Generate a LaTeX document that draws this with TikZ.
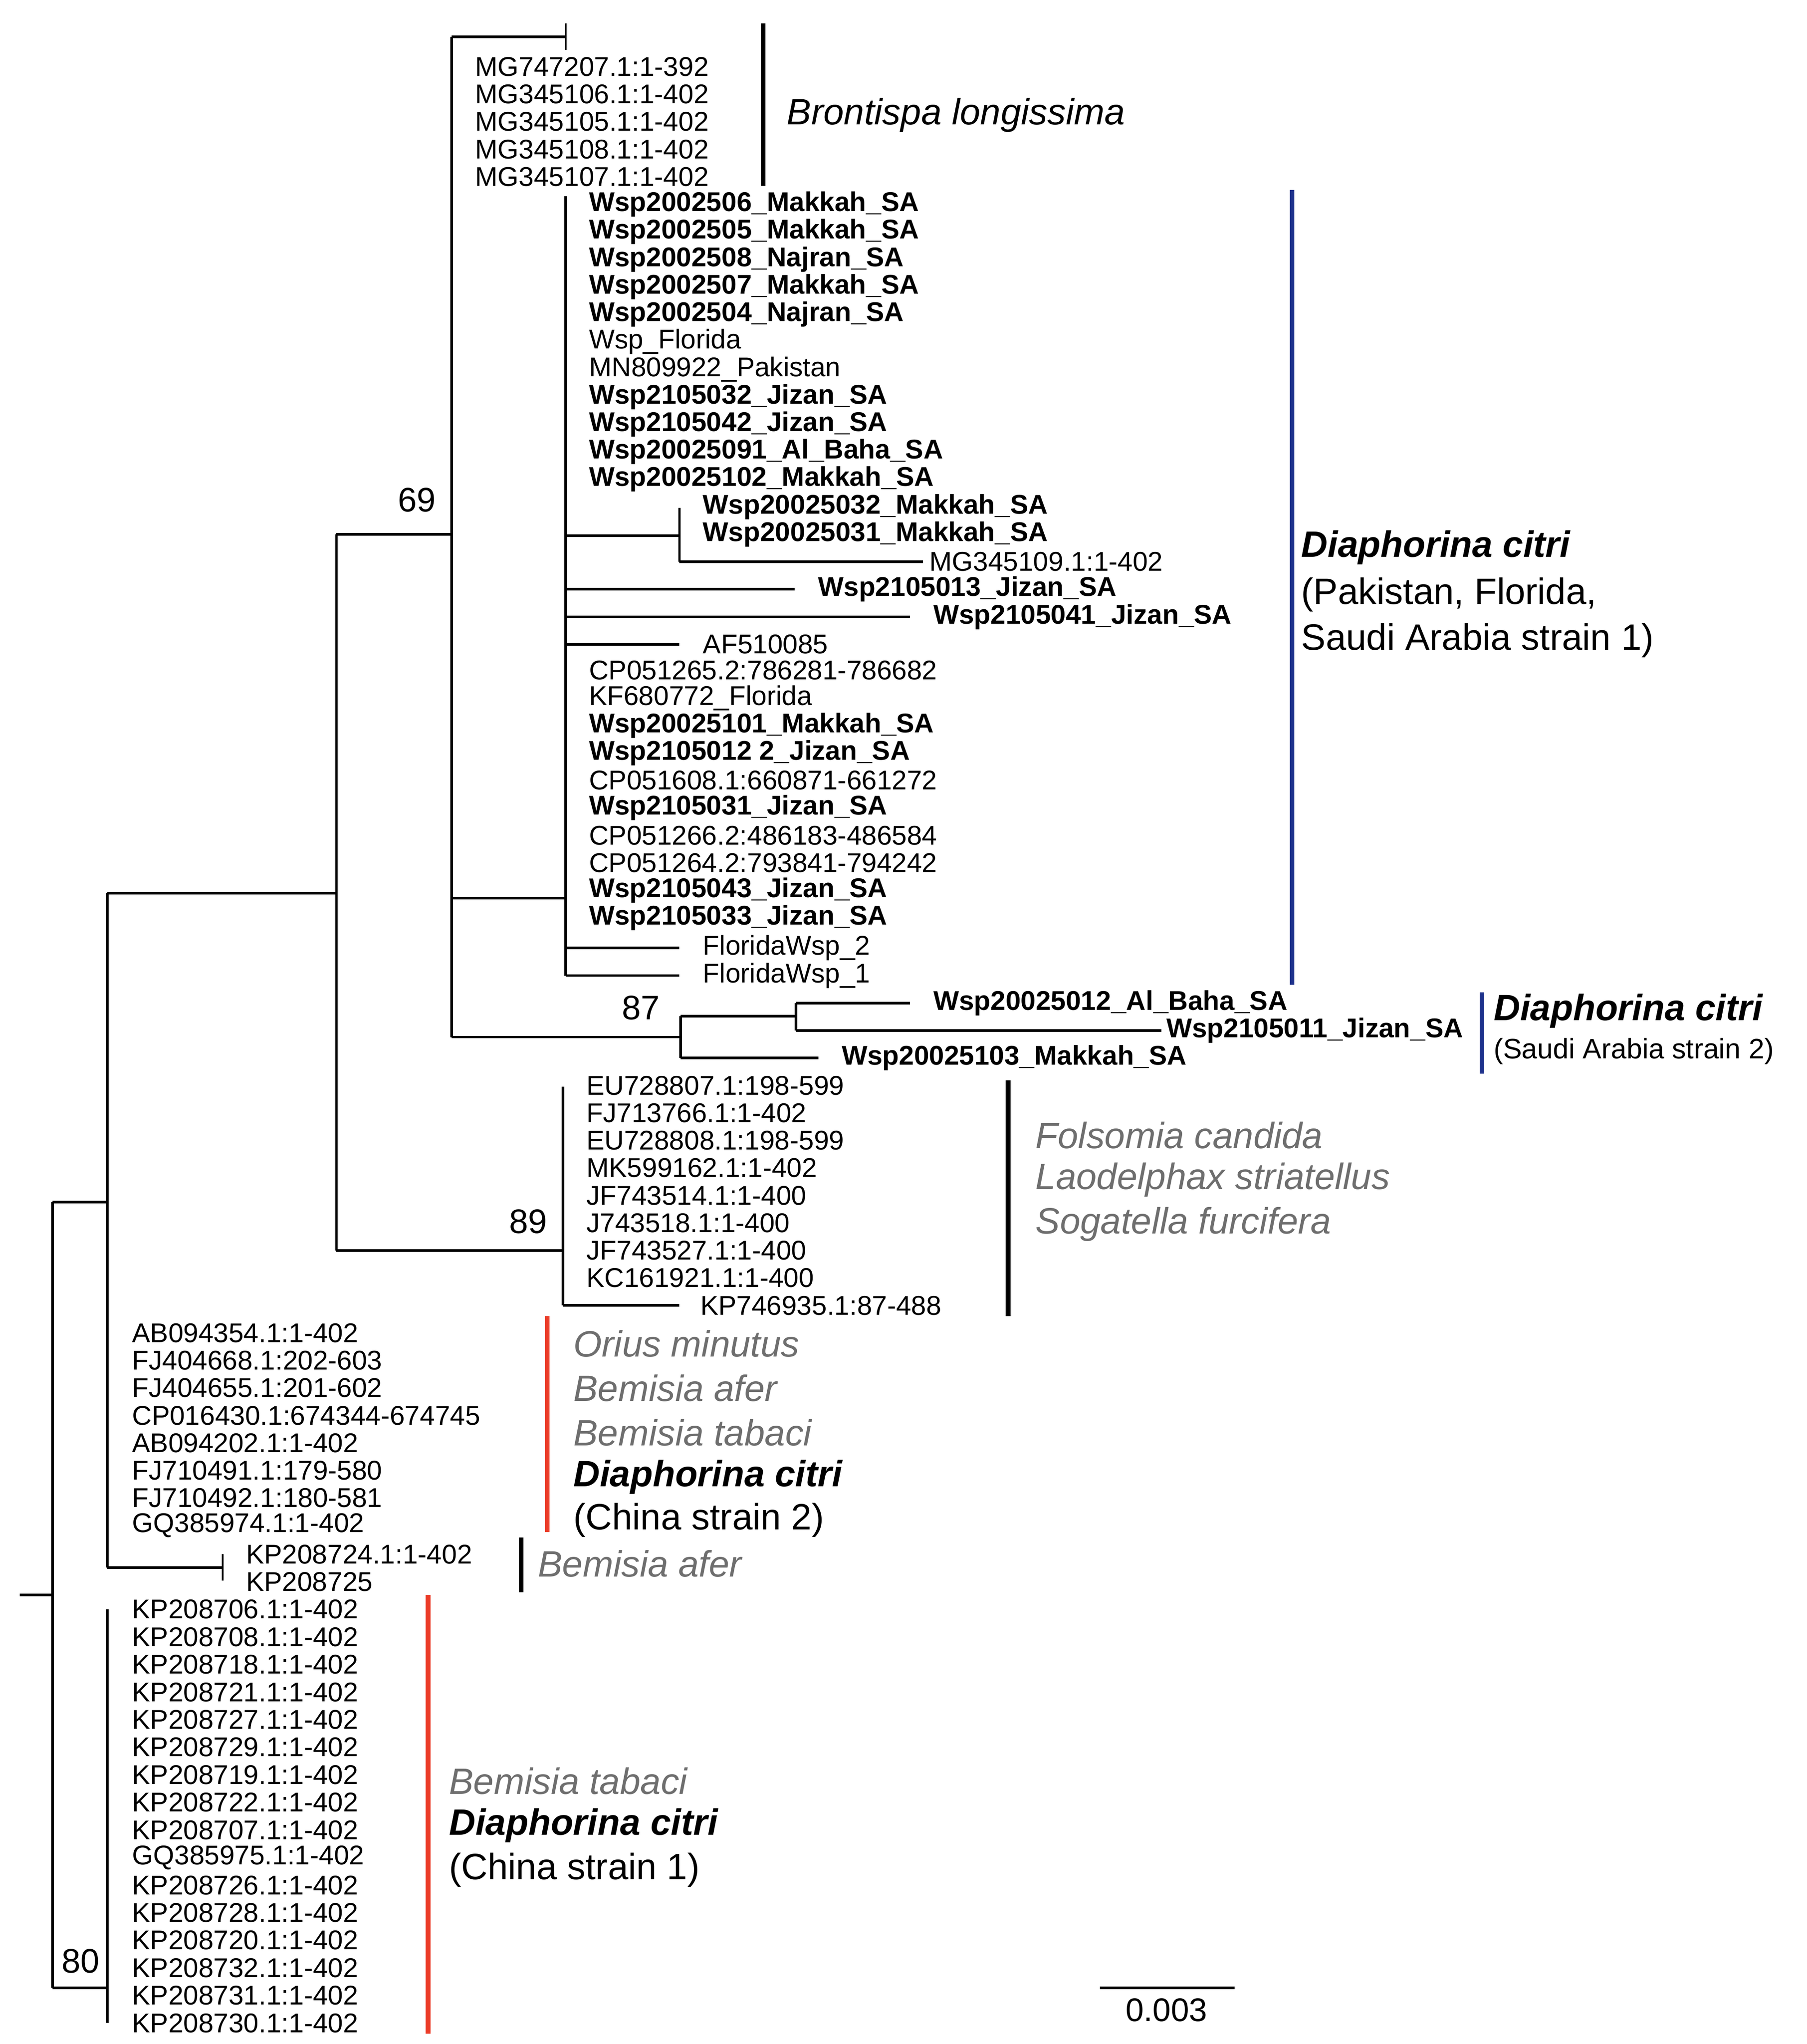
\documentclass[tikz,border=0pt]{standalone}
\usepackage{fontspec}
\setmainfont{Liberation Sans}
\begin{document}
\begin{tikzpicture}[x=1pt,y=-1pt,line width=2pt,
  leaf/.style={anchor=west,inner sep=0pt,font=\fontsize{20.7}{21}\selectfont},
  boot/.style={anchor=south,inner sep=1pt,font=\fontsize{26}{28}\selectfont},
  big/.style={anchor=west,inner sep=0pt,font=\fontsize{28}{30}\selectfont},
  gr/.style={big,text=grayt,font=\fontsize{28}{30}\selectfont\itshape},
  br/.style={line width=3.5pt}]
\definecolor{bluet}{RGB}{30,50,140}
\definecolor{redt}{RGB}{235,60,40}
\definecolor{grayt}{RGB}{110,110,110}
\useasboundingbox (0,0) rectangle (1380,1561);
% root
\coordinate (R) at (15,1218); \coordinate (R1) at (40,1218);
\coordinate (A) at (40,918); \coordinate (B) at (40,1518);
\draw (R) -- (R1); \draw (A) -- (B);
\coordinate (A1) at (82,918); \draw (A) -- (A1);
\coordinate (C1) at (82,682); \coordinate (C2) at (82,1197); \draw (C1) -- (C2);
\coordinate (D) at (257,682); \draw (C1) -- (D);
\coordinate (D1) at (257,408); \coordinate (D2) at (257,955); \draw (D1) -- (D2);
\coordinate (E) at (345,408); \draw (D1) -- (E);
\node[boot,anchor=south east] (b69) at (335,393) {69};
\coordinate (E1) at (345,28); \coordinate (E2) at (345,792); \draw (E1) -- (E2);
\coordinate (F) at (432,28); \draw (E1) -- (F);
\coordinate (Ft) at (432,18); \coordinate (Fb) at (432,38); \draw[line width=1.5pt] (Ft) -- (Fb);
\foreach \t [count=\i] in {MG747207.1:1-392,MG345106.1:1-402,MG345105.1:1-402,MG345108.1:1-402,MG345107.1:1-402}
  \node[leaf] (m\i) at (362,{51+21*(\i-1)}) {\t};
% main Dc cluster
\coordinate (G) at (345,686); \coordinate (G1) at (432,686); \draw (G) -- (G1);
\coordinate (H1) at (432,150); \coordinate (H2) at (432,745); \draw (H1) -- (H2);
\foreach \t [count=\i] in {\textbf{Wsp2002506\_Makkah\_SA},\textbf{Wsp2002505\_Makkah\_SA},\textbf{Wsp2002508\_Najran\_SA},\textbf{Wsp2002507\_Makkah\_SA},\textbf{Wsp2002504\_Najran\_SA},Wsp\_Florida,MN809922\_Pakistan,\textbf{Wsp2105032\_Jizan\_SA},\textbf{Wsp2105042\_Jizan\_SA},\textbf{Wsp20025091\_Al\_Baha\_SA},\textbf{Wsp20025102\_Makkah\_SA}}
  \node[leaf] (p\i) at (449,{156+21*(\i-1)}) {\t};
\foreach \t [count=\i] in {CP051265.2:786281-786682,KF680772\_Florida,\textbf{Wsp20025101\_Makkah\_SA},\textbf{Wsp2105012 2\_Jizan\_SA},CP051608.1:660871-661272,\textbf{Wsp2105031\_Jizan\_SA},CP051266.2:486183-486584,CP051264.2:793841-794242,\textbf{Wsp2105043\_Jizan\_SA},\textbf{Wsp2105033\_Jizan\_SA}}
  \node[leaf] (q\i) at (449,{512+21*(\i-1)}) {\t};
\coordinate (I) at (432,409); \coordinate (I1) at (519,409); \draw (I) -- (I1);
\coordinate (J1) at (519,388); \coordinate (J2) at (519,429); \draw (J1) -- (J2);
\node[leaf] (s1) at (536,387) {\textbf{Wsp20025032\_Makkah\_SA}};
\node[leaf] (s2) at (536,408) {\textbf{Wsp20025031\_Makkah\_SA}};
\coordinate (J3) at (705,429); \draw (J2) -- (J3);
\node[leaf] (s3) at (709,429) {MG345109.1:1-402};
\coordinate (K1) at (432,450); \coordinate (K2) at (607,450); \draw (K1) -- (K2);
\node[leaf] (s4) at (624,450) {\textbf{Wsp2105013\_Jizan\_SA}};
\coordinate (L1) at (432,471); \coordinate (L2) at (695,471); \draw (L1) -- (L2);
\node[leaf] (s5) at (712,471) {\textbf{Wsp2105041\_Jizan\_SA}};
\coordinate (M1) at (432,492); \coordinate (M2) at (519,492); \draw (M1) -- (M2);
\node[leaf] (s6) at (536,492) {AF510085};
\coordinate (N1) at (432,724); \coordinate (N2) at (519,724); \draw (N1) -- (N2);
\node[leaf] (s7) at (536,724) {FloridaWsp\_2};
\coordinate (O2) at (519,745); \draw (H2) -- (O2);
\node[leaf] (s8) at (536,745) {FloridaWsp\_1};
% SA strain 2
\coordinate (P1) at (520,792); \draw (E2) -- (P1);
\node[boot,anchor=south east] (b87) at (506,781) {87};
\coordinate (P2) at (520,776); \coordinate (P3) at (520,808); \draw (P2) -- (P3);
\coordinate (Q1) at (608,776); \draw (P2) -- (Q1);
\coordinate (Q2) at (608,766); \coordinate (Q3) at (608,787); \draw (Q2) -- (Q3);
\coordinate (Q4) at (695,766); \draw (Q2) -- (Q4);
\coordinate (Q5) at (887,787); \draw (Q3) -- (Q5);
\coordinate (Q6) at (625,808); \draw (P3) -- (Q6);
\node[leaf] (t1) at (712,766) {\textbf{Wsp20025012\_Al\_Baha\_SA}};
\node[leaf] (t2) at (890,787) {\textbf{Wsp2105011\_Jizan\_SA}};
\node[leaf] (t3) at (642,808) {\textbf{Wsp20025103\_Makkah\_SA}};
% 89 clade
\coordinate (S1) at (430,955); \draw (D2) -- (S1);
\node[boot,anchor=south east] (b89) at (420,944) {89};
\coordinate (S2) at (430,830); \coordinate (S3) at (430,997); \draw (S2) -- (S3);
\foreach \t [count=\i] in {EU728807.1:198-599,FJ713766.1:1-402,EU728808.1:198-599,MK599162.1:1-402,JF743514.1:1-400,J743518.1:1-400,JF743527.1:1-400,KC161921.1:1-400}
  \node[leaf] (u\i) at (447,{829+21*(\i-1)}) {\t};
\coordinate (S4) at (519,997); \draw (S3) -- (S4);
\node[leaf] (u9) at (534,997) {KP746935.1:87-488};
% China 2 group
\foreach \t [count=\i] in {AB094354.1:1-402,FJ404668.1:202-603,FJ404655.1:201-602,CP016430.1:674344-674745,AB094202.1:1-402,FJ710491.1:179-580,FJ710492.1:180-581,GQ385974.1:1-402}
  \node[leaf] (v\i) at (100,{1018+21*(\i-1)}) {\t};
\coordinate (T1) at (170,1197); \draw (C2) -- (T1);
\coordinate (T2) at (170,1187); \coordinate (T3) at (170,1207); \draw[line width=1.5pt] (T2) -- (T3);
\node[leaf] (w1) at (187,1187) {KP208724.1:1-402};
\node[leaf] (w2) at (187,1208) {KP208725};
% China 1 group
\coordinate (U1) at (82,1518); \draw (B) -- (U1);
\node[boot,anchor=south east] (b80) at (78,1509) {80};
\coordinate (U2) at (82,1229); \coordinate (U3) at (82,1545); \draw (U2) -- (U3);
\foreach \t [count=\i] in {KP208706.1:1-402,KP208708.1:1-402,KP208718.1:1-402,KP208721.1:1-402,KP208727.1:1-402,KP208729.1:1-402,KP208719.1:1-402,KP208722.1:1-402,KP208707.1:1-402,GQ385975.1:1-402,KP208726.1:1-402,KP208728.1:1-402,KP208720.1:1-402,KP208732.1:1-402,KP208731.1:1-402,KP208730.1:1-402}
  \node[leaf] (k\i) at (100,{1229+21.07*(\i-1)}) {\t};
% bars and group labels
\coordinate (X1) at (583,18); \coordinate (X2) at (583,142); \draw[br] (X1) -- (X2);
\node[big,font=\fontsize{28}{30}\selectfont\itshape] (g1) at (600,88) {Brontispa longissima};
\coordinate (X3) at (987,145); \coordinate (X4) at (987,752); \draw[br,bluet] (X3) -- (X4);
\node[big,font=\fontsize{28}{30}\selectfont\bfseries\itshape] (g2) at (993,418) {Diaphorina citri};
\node[big] (g3) at (993,454) {(Pakistan, Florida,};
\node[big] (g4) at (993,489) {Saudi Arabia strain 1)};
\coordinate (X5) at (1132,758); \coordinate (X6) at (1132,820); \draw[br,bluet] (X5) -- (X6);
\node[big,font=\fontsize{28}{30}\selectfont\bfseries\itshape] (g5) at (1140,772) {Diaphorina citri};
\node[big,font=\fontsize{21.5}{23}\selectfont] (g6) at (1140,803) {(Saudi Arabia strain 2)};
\coordinate (X7) at (770,825); \coordinate (X8) at (770,1005); \draw[br] (X7) -- (X8);
\node[gr] (g7) at (790,867) {Folsomia candida};
\node[gr] (g8) at (790,901) {Laodelphax striatellus};
\node[gr] (g9) at (790,935) {Sogatella furcifera};
\coordinate (X9) at (418,1005); \coordinate (X10) at (418,1170); \draw[br,redt] (X9) -- (X10);
\node[gr] (h1) at (437,1026) {Orius minutus};
\node[gr] (h2) at (437,1060) {Bemisia afer};
\node[gr] (h3) at (437,1094) {Bemisia tabaci};
\node[big,font=\fontsize{28}{30}\selectfont\bfseries\itshape] (h4) at (437,1128) {Diaphorina citri};
\node[big] (h5) at (437,1161) {(China strain 2)};
\coordinate (X11) at (398,1174); \coordinate (X12) at (398,1216); \draw[br] (X11) -- (X12);
\node[gr] (h6) at (410,1194) {Bemisia afer};
\coordinate (X13) at (327,1218); \coordinate (X14) at (327,1553); \draw[br,redt] (X13) -- (X14);
\node[gr] (h7) at (342,1360) {Bemisia tabaci};
\node[big,font=\fontsize{28}{30}\selectfont\bfseries\itshape] (h8) at (342,1394) {Diaphorina citri};
\node[big] (h9) at (342,1428) {(China strain 1)};
% scale
\coordinate (Z1) at (840,1518); \coordinate (Z2) at (943,1518); \draw (Z1) -- (Z2);
\node[big,anchor=center,font=\fontsize{25}{27}\selectfont] (z) at (891,1535) {0.003};
\end{tikzpicture}
\end{document}
